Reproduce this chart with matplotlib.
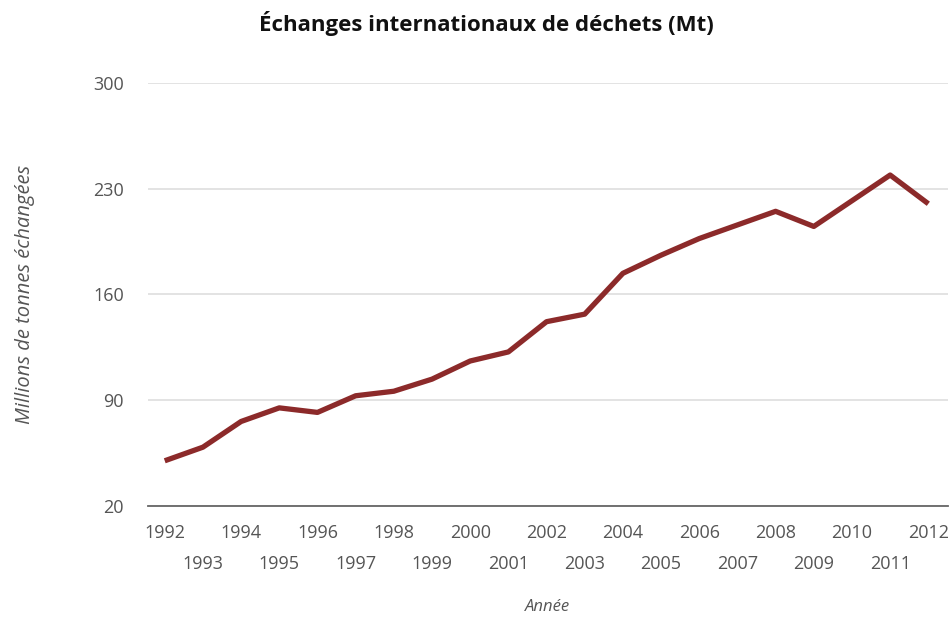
import matplotlib.pyplot as plt
from matplotlib.ticker import FixedLocator

plt.rcParams['font.family'] = ['Open Sans', 'DejaVu Sans']

# data
years = [1992, 1993, 1994, 1995, 1996, 1997, 1998, 1999, 2000, 2001, 2002,
         2003, 2004, 2005, 2006, 2007, 2008, 2009, 2010, 2011, 2012]
tonnes = [50, 59, 76, 85, 82, 93, 96, 104, 116, 122, 142,
          147, 174, 186, 197, 206, 215, 205, 222, 239, 220]
y_ticks = [20, 90, 160, 230, 300]
even_years = [y for y in years if y % 2 == 0]
odd_years = [y for y in years if y % 2 == 1]

fig = plt.figure(figsize=(9.52, 6.18), dpi=100)
ax = fig.add_axes([0.155, 0.181, 0.841, 0.685])

ax.plot(years, tonnes, color='#8c2a2a', linewidth=3.8, solid_capstyle='butt', zorder=3)

ax.set_ylim(20, 300)
ax.set_xlim(1991.55, 2012.52)
ax.set_yticks(y_ticks)
ax.yaxis.grid(True, color='#dedede', linewidth=1.2)
ax.set_axisbelow(True)

ax.xaxis.set_major_locator(FixedLocator(even_years))
ax.xaxis.set_minor_locator(FixedLocator(odd_years))
ax.set_xticklabels([str(y) for y in even_years])
ax.set_xticklabels([str(y) for y in odd_years], minor=True)
ax.tick_params(axis='x', which='major', length=0, pad=13, labelsize=13, labelcolor='#555555')
ax.tick_params(axis='x', which='minor', length=0, pad=35, labelsize=13, labelcolor='#555555')
ax.tick_params(axis='y', length=0, pad=17, labelsize=13, labelcolor='#555555')

for s in ['top', 'right', 'left']:
    ax.spines[s].set_visible(False)
ax.spines['bottom'].set_color('#666666')
ax.spines['bottom'].set_linewidth(1.3)

ax.set_xlabel('Année', fontsize=12, style='italic', color='#555555', labelpad=19)
ax.set_ylabel('Millions de tonnes échangées', fontsize=14.5, style='italic',
              color='#555555', labelpad=42)

fig.text(0.511, 0.962, 'Échanges internationaux de déchets (Mt)', ha='center', va='center',
         fontsize=16, fontweight='bold', color='#111111')

fig.savefig('out.png', dpi=100)
